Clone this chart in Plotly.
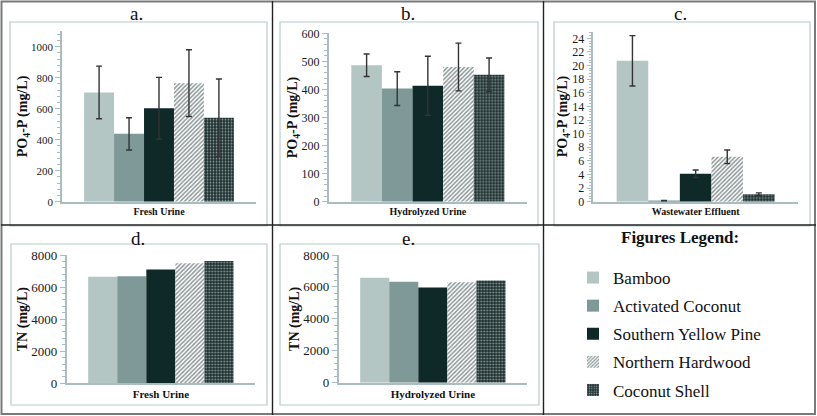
import plotly.graph_objects as go

W, H = 817, 416

# ---------------- data ----------------
materials = ["Bamboo", "Activated Coconut", "Southern Yellow Pine",
             "Northern Hardwood", "Coconut Shell"]

po4_fresh = [705, 438, 603, 765, 542]
po4_fresh_err = [170, 104, 199, 215, 250]
po4_hydro = [486, 403, 413, 480, 452]
po4_hydro_err = [40, 60, 105, 85, 60]
po4_waste = [20.7, 0.15, 4.1, 6.6, 1.1]
po4_waste_err = [3.7, 0.05, 0.55, 1.0, 0.2]
tn_fresh = [6640, 6680, 7100, 7480, 7620]
tn_hydro = [6580, 6330, 5970, 6290, 6410]

cat_a = ["Fresh Urine"]
cat_b = ["Hydrolyzed Urine"]
cat_c = ["Wastewater Effluent"]
cat_d = ["Fresh Urine"]
cat_e = ["Hydrolyzed Urine"]

# ---------------- styles ----------------
SERIF = "Liberation Serif, Times New Roman, Times, serif"
colors = ["#b3c6c4", "#7e9997", "#0f2929", "#ffffff", "#1c3030"]
patterns = [
    None, None, None,
    dict(shape="/", fgcolor="#1a2f2f", bgcolor="#ffffff", size=3, solidity=0.5),
    dict(shape=".", fgcolor="#ffffff", bgcolor="#1c3030", size=3, solidity=0.3),
]
AXC = "#a9bdbf"


def px_x(p):
    return p / W


def px_y(p):
    return 1 - p / H


fig = go.Figure()

panels = [
    (cat_a, po4_fresh, po4_fresh_err, "", [0, 1100], 200, 40, "PO<sub>4</sub>-P (mg/L)", (62, 256), (201.7, 31.2), 10, 11),
    (cat_b, po4_hydro, po4_hydro_err, "2", [0, 600], 100, 20, "PO<sub>4</sub>-P (mg/L)", (328.7, 527), (201.7, 33.3), 10, 12),
    (cat_c, po4_waste, po4_waste_err, "3", [0, 25], 2, 0.4, "PO<sub>4</sub>-P (mg/L)", (593.3, 798), (201.7, 31.5), 10, 12),
    (cat_d, tn_fresh, None, "4", [0, 8000], 2000, 400, "TN (mg/L)", (66.7, 255), (383.3, 255), 11, 13),
    (cat_e, tn_hydro, None, "5", [0, 8000], 2000, 400, "TN (mg/L)", (338.7, 527), (382.7, 255), 11, 13),
]

layout_axes = {}
for pi, (cats, vals, errs, sfx, yr, dt, mdt, ytitle, xd, yd, xfs, yfs) in enumerate(panels):
    for i, m in enumerate(materials):
        marker = dict(color=colors[i], line=dict(width=0))
        if patterns[i] is not None:
            marker["pattern"] = patterns[i]
        tr = go.Bar(
            x=cats, y=[vals[i]], name=m,
            marker=marker,
            xaxis="x" + sfx, yaxis="y" + sfx,
            offsetgroup=str(i),
            showlegend=(pi == 0),
            legendgroup="g%d" % i,
        )
        if errs is not None:
            tr.error_y = dict(type="data", array=[errs[i]], visible=True,
                              color="#333333", thickness=1.4, width=3)
        fig.add_trace(tr)

    layout_axes["xaxis" + sfx] = dict(
        domain=[px_x(xd[0]), px_x(xd[1])], anchor="y" + sfx,
        type="category", showline=True, linecolor=AXC, linewidth=1.5,
        ticks="", showgrid=False, zeroline=False, automargin=False,
        tickfont=dict(family=SERIF, size=xfs, color="#111", weight="bold"),
        fixedrange=True,
    )
    layout_axes["yaxis" + sfx] = dict(
        domain=[px_y(yd[0]), px_y(yd[1])], anchor="x" + sfx,
        range=yr, dtick=dt, tick0=0, showline=True, linecolor=AXC, linewidth=1.5,
        ticks="outside", ticklen=5, tickcolor=AXC, tickwidth=1,
        minor=dict(dtick=mdt, ticks="outside", ticklen=3, tickcolor=AXC, tickwidth=1),
        showgrid=False, zeroline=False, automargin=False,
        tickfont=dict(family=SERIF, size=yfs, color="#1a1a1a"),
        title=dict(text=ytitle, font=dict(family=SERIF, size=14, color="#111", weight="bold"),
                   standoff=0),
        fixedrange=True,
    )

# ---------------- borders ----------------
shapes = []


def rect(x0, y0, x1, y1, color, width):
    shapes.append(dict(type="rect", xref="paper", yref="paper",
                       x0=px_x(x0), x1=px_x(x1), y0=px_y(y1), y1=px_y(y0),
                       line=dict(color=color, width=width), fillcolor="rgba(0,0,0,0)",
                       layer="above"))


def line(x0, y0, x1, y1, color, width):
    shapes.append(dict(type="line", xref="paper", yref="paper",
                       x0=px_x(x0), x1=px_x(x1), y0=px_y(y0), y1=px_y(y1),
                       line=dict(color=color, width=width), layer="above"))


INNER = "#b8cacc"
rect(10, 22, 267, 226, INNER, 1.2)
rect(280, 22, 538, 226, INNER, 1.2)
rect(554, 22, 810, 226, INNER, 1.2)
rect(11, 244, 267, 405, INNER, 1.2)
rect(280, 244, 539, 405, INNER, 1.2)

rect(1.5, 1.5, 815, 414, "#7a7a7a", 2)
line(1, 225, 816, 225, "#222222", 1.6)
line(272.5, 1, 272.5, 415, "#222222", 1.4)
line(543.5, 1, 543.5, 415, "#222222", 1.4)

# ---------------- annotations ----------------
annotations = []


def label(txt, x, y, size, bold=False):
    annotations.append(dict(text=txt, xref="paper", yref="paper",
                            x=px_x(x), y=px_y(y), xanchor="center", yanchor="middle",
                            showarrow=False,
                            font=dict(family=SERIF, size=size, color="#111",
                                      weight="bold" if bold else "normal")))


label("a.", 136, 13, 19)
label("b.", 408, 13, 19)
label("c.", 680, 13, 19)
label("d.", 138, 238, 19)
label("e.", 408, 238, 19)
label("Figures Legend:", 680, 237, 17, bold=True)

fig.update_layout(
    width=W, height=H,
    margin=dict(l=0, r=0, t=0, b=0, autoexpand=False),
    paper_bgcolor="white", plot_bgcolor="white",
    barmode="group", bargap=0.228, bargroupgap=0,
    shapes=shapes, annotations=annotations,
    showlegend=True,
    legend=dict(x=px_x(573), y=px_y(260), xanchor="left", yanchor="top",
                font=dict(family=SERIF, size=17, color="#111"),
                tracegroupgap=3, bgcolor="rgba(0,0,0,0)", itemclick=False),
    **layout_axes,
)

fig.write_html("out.html",
               config={"displayModeBar": False},
               post_script="document.body.style.margin='0';document.body.style.padding='0';")
